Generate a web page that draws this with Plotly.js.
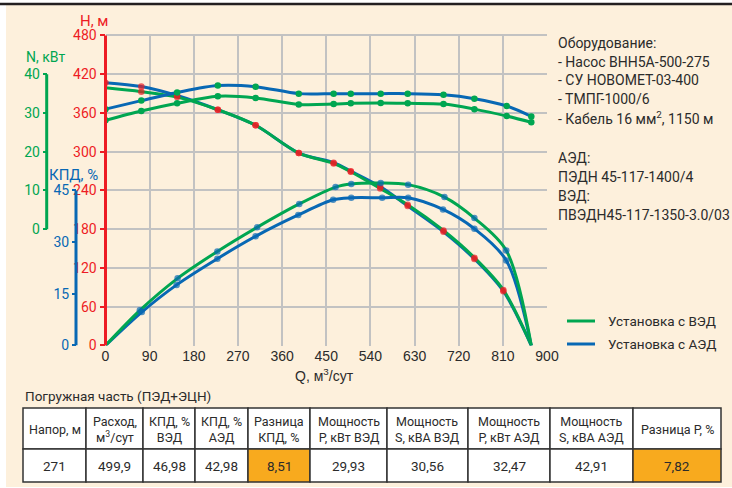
<!DOCTYPE html>
<html>
<head>
<meta charset="utf-8">
<script src="https://cdn.plot.ly/plotly-3.0.1.min.js"></script>
<style>html,body{margin:0;padding:0;background:#fff}#chart{width:732px;height:488px}</style>
</head>
<body>
<div id="chart"></div>
<script>
// ---------- DATA ----------
// Head curves H, m
const qHead = [0, 73, 146, 229, 306, 394, 465, 500, 560, 616, 689, 752, 811, 868];
const headVED = [399, 393, 384.6, 365, 341, 298, 282, 269, 243, 218, 178, 136, 86, 0];
const headAED = [407, 401, 387, 365, 341, 298, 283, 270, 246, 216, 176, 134, 84, 0];
// Power curves N, kW
const qPower = [0, 73, 146, 229, 306, 394, 465, 500, 561, 616, 689, 752, 818, 868];
const powerVED = [28.1, 30.5, 32.5, 34.3, 33.9, 32.2, 32.3, 32.5, 32.6, 32.5, 32.3, 31.0, 29.2, 27.6];
const powerAED = [31.0, 33.2, 35.3, 37.1, 36.8, 35.0, 35.0, 35.0, 35.0, 35.0, 34.7, 33.7, 31.8, 29.1];
// Efficiency curves KPD, %
const qEffVED = [0, 70, 147, 228, 309, 395, 469, 501, 561, 617, 691, 752, 817, 868];
const effVED = [0, 10.2, 19.5, 27.3, 34.3, 41.1, 46.0, 46.9, 47.2, 46.7, 43.1, 37.0, 27.6, 0];
const qEffAED = [0, 74, 145, 228, 306, 393, 464, 501, 564, 617, 688, 752, 817, 868];
const effAED = [0, 9.7, 17.6, 25.2, 31.7, 37.9, 42.3, 42.9, 42.9, 42.9, 39.5, 33.9, 24.7, 0];

// Axis ticks
const qTicks = [0, 90, 180, 270, 360, 450, 540, 630, 720, 810, 900];
const hTicks = [0, 60, 120, 180, 240, 300, 360, 420, 480];
const nTicks = [0, 10, 20, 30, 40];
const effTicks = [0, 15, 30, 45];

// Legend names
const seriesNames = ['Установка с ВЭД', 'Установка с АЭД'];

// Equipment notes
const notesTop = ['Оборудование:', '- Насос ВНН5А-500-275', '- СУ НОВОМЕТ-03-400', '- ТМПГ-1000/6', '- Кабель 16 мм<sup>2</sup>, 1150 м'];
const notesBottom = ['АЭД:', 'ПЭДН 45-117-1400/4', 'ВЭД:', 'ПВЭДН45-117-1350-3.0/03'];

// Table
const tableCaption = 'Погружная часть (ПЭД+ЭЦН)';
const tableHeaders = ['Напор, м', 'Расход,<br>м<sup>3</sup>/сут', 'КПД, %<br>ВЭД', 'КПД, %<br>АЭД', 'Разница<br>КПД, %',
  'Мощность<br>Р, кВт ВЭД', 'Мощность<br>S, кВА ВЭД', 'Мощность<br>Р, кВт АЭД', 'Мощность<br>S, кВА АЭД', 'Разница Р, %'];
const tableValues = ['271', '499,9', '46,98', '42,98', '8,51', '29,93', '30,56', '32,47', '42,91', '7,82'];
const highlighted = [false, false, false, false, true, false, false, false, false, true];

// ---------- STYLE / LAYOUT ----------
const W = 732, H = 488;
const px = v => v / W;
const py = v => (H - v) / H;
const GREEN = '#00A651', BLUE = '#0868B4', RED = '#ED1C24', PEACH = '#FDF0DC', GRID = '#C2C2C2', TXT = '#2b2b2b', ORANGE = '#F8AA1E';
const FONT = "Roboto, 'Liberation Sans', sans-serif";
const REG = "'Liberation Sans', Arial, sans-serif";

// table geometry (pixels)
const colEdges = [23, 86, 143, 195, 248, 310, 387, 468, 550, 633, 721];
const rowEdges = [408, 449, 482];

function line(x, y, color, yaxis) {
  return {x: x, y: y, yaxis: yaxis, type: 'scatter', mode: 'lines', showlegend: false, hoverinfo: 'skip',
    line: {color: color, width: 3, shape: 'spline', smoothing: 0.9}};
}
function dots(x, y, color, yaxis, sizes) {
  return {x: x, y: y, yaxis: yaxis, type: 'scatter', mode: 'markers', showlegend: false, hoverinfo: 'skip',
    marker: {color: color, size: sizes || 6.5, line: {width: 0}}};
}
const sizesEnds = arr => arr.map((v, i) => (i === 0 || i === arr.length - 1) ? 0 : 6.5);

const traces = [
  line(qHead, headAED, BLUE, 'y'),
  line(qHead, headVED, GREEN, 'y'),
  dots(qHead, headAED, RED, 'y', qHead.map((v, i) => i === qHead.length - 1 ? 0 : 6.5)),
  dots(qHead, headVED, RED, 'y', sizesEnds(qHead)),
  line(qPower, powerAED, BLUE, 'y2'),
  line(qPower, powerVED, GREEN, 'y2'),
  dots(qPower, powerAED, GREEN, 'y2'),
  dots(qPower, powerVED, GREEN, 'y2'),
  line(qEffAED, effAED, BLUE, 'y3'),
  line(qEffVED, effVED, GREEN, 'y3'),
  dots(qEffAED, effAED, BLUE, 'y3', sizesEnds(qEffAED)),
  dots(qEffVED, effVED, BLUE, 'y3', sizesEnds(qEffVED))
];

function ann(text, x, y, font, xanchor) {
  return {text: text, x: px(x), y: py(y), xref: 'paper', yref: 'paper', xanchor: xanchor || 'center', yanchor: 'middle', showarrow: false, font: font};
}

const annotations = [
  ann('Н, м', 94, 21, {family: FONT, size: 15, color: RED}),
  ann('N, кВт', 46, 57, {family: FONT, size: 14, color: GREEN}),
  ann('КПД, %', 73, 175, {family: FONT, size: 15, color: BLUE}),
  ann('Q, м<sup>3</sup>/сут', 324, 375, {family: REG, size: 14, color: TXT}),
  ann(tableCaption, 23, 396, {family: FONT, size: 13.5, color: TXT}, 'left')
];
notesTop.forEach((t, i) => annotations.push(ann(t, 556, 43.3 + i * 18.6, {family: FONT, size: 14, color: TXT}, 'left')));
notesBottom.forEach((t, i) => annotations.push(ann(t, 556, 158.3 + i * 18.9, {family: FONT, size: 14, color: TXT}, 'left')));

// custom legend
const legendRows = [321, 344];
const legendColors = [GREEN, BLUE];
const shapes = [
  {type: 'rect', xref: 'paper', yref: 'paper', x0: px(6), x1: 1, y0: py(487), y1: py(5), fillcolor: PEACH, line: {width: 0}, layer: 'below'},
  {type: 'line', xref: 'paper', yref: 'paper', x0: 0, x1: 1, y0: py(4), y1: py(4), line: {color: '#231F20', width: 2.5}},
  {type: 'line', xref: 'paper', yref: 'y2', x0: px(46.7), x1: px(46.7), y0: nTicks[0], y1: nTicks[nTicks.length - 1], line: {color: GREEN, width: 3}},
  {type: 'line', xref: 'paper', yref: 'y3', x0: px(76), x1: px(76), y0: effTicks[0], y1: effTicks[effTicks.length - 1], line: {color: BLUE, width: 3}}
];
seriesNames.forEach((n, i) => {
  shapes.push({type: 'line', xref: 'paper', yref: 'paper', x0: px(567), x1: px(595), y0: py(legendRows[i]), y1: py(legendRows[i]), line: {color: legendColors[i], width: 3}});
  annotations.push(ann(n, 606, legendRows[i], {family: FONT, size: 13.5, color: TXT}, 'left'));
});

// custom table
for (let c = 0; c < tableHeaders.length; c++) {
  const x0 = colEdges[c], x1 = colEdges[c + 1];
  shapes.push({type: 'rect', xref: 'paper', yref: 'paper', x0: px(x0), x1: px(x1), y0: py(rowEdges[1]), y1: py(rowEdges[0]), fillcolor: 'white', line: {color: '#333', width: 1.5}});
  shapes.push({type: 'rect', xref: 'paper', yref: 'paper', x0: px(x0), x1: px(x1), y0: py(rowEdges[2]), y1: py(rowEdges[1]), fillcolor: highlighted[c] ? ORANGE : 'white', line: {color: '#333', width: 1.5}});
  const xc = (x0 + x1) / 2;
  annotations.push(Object.assign(ann(tableHeaders[c], xc, (rowEdges[0] + rowEdges[1]) / 2 + 0.5, {family: FONT, size: 12.5, color: TXT}), {align: 'center'}));
  annotations.push(ann(tableValues[c], xc, (rowEdges[1] + rowEdges[2]) / 2, {family: FONT, size: 13.5, color: TXT}));
}

const yTop = 482; // slightly above 480 so the top grid line is drawn
const layout = {
  width: W, height: H,
  margin: {l: 0, r: 0, t: 0, b: 0, pad: 0},
  paper_bgcolor: 'white', plot_bgcolor: 'rgba(0,0,0,0)',
  showlegend: false,
  xaxis: {
    domain: [px(105.5), px(547)], range: [0, 900], tickvals: qTicks,
    showgrid: true, gridcolor: GRID, gridwidth: 2, zeroline: false, showline: false, ticks: '',
    tickfont: {family: REG, size: 14, color: TXT}, fixedrange: true
  },
  yaxis: {
    domain: [py(345.5), py(345.5 - yTop * 310 / 480)], range: [0, yTop], tickvals: hTicks,
    showgrid: true, gridcolor: GRID, gridwidth: 2, zeroline: false,
    showline: false,
    ticks: 'outside', ticklen: 5, tickwidth: 2, tickcolor: RED,
    tickfont: {family: FONT, size: 14, color: RED}, fixedrange: true
  },
  yaxis2: {
    overlaying: 'y', anchor: 'free', position: px(46.7), side: 'left', range: [-30, (yTop - 180) / 6], tickvals: nTicks,
    showgrid: false, zeroline: false, showline: false,
    ticks: 'outside', ticklen: 4, tickwidth: 2, tickcolor: GREEN,
    tickfont: {family: FONT, size: 14, color: GREEN}, fixedrange: true
  },
  yaxis3: {
    overlaying: 'y', anchor: 'free', position: px(76), side: 'left', range: [0, yTop * 45 / 240], tickvals: effTicks,
    showgrid: false, zeroline: false, showline: false,
    ticks: 'outside', ticklen: 4, tickwidth: 2, tickcolor: BLUE,
    tickfont: {family: FONT, size: 14, color: BLUE}, fixedrange: true
  },
  shapes: shapes,
  annotations: annotations
};
// red H axis line from 0 to 480
layout.shapes.push({type: 'line', xref: 'paper', yref: 'y', x0: px(105.5), x1: px(105.5), y0: hTicks[0], y1: hTicks[hTicks.length - 1], line: {color: RED, width: 3}});

Plotly.newPlot('chart', traces, layout, {staticPlot: true, displayModeBar: false});
</script>
</body>
</html>
